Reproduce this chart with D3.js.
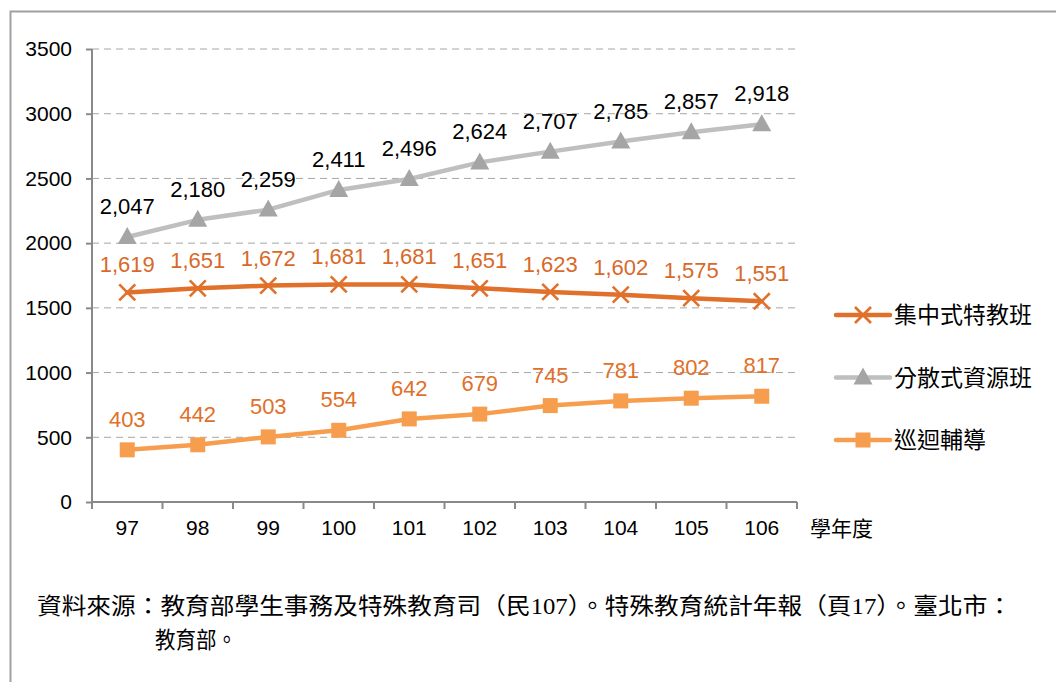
<!DOCTYPE html>
<html>
<head>
<meta charset="utf-8" />
<title>特殊教育班級數</title>
<style>
  html, body { margin: 0; padding: 0; background: #fff; }
  body { width: 1056px; height: 682px; overflow: hidden; font-family: "Liberation Sans", Arial, sans-serif; }
  .grid line { stroke: #a6a6a6; stroke-dasharray: 7 5; }
  .axis path, .axis line { stroke: #898989; stroke-width: 2; }
  .axis text { font-size: 21px; fill: #000; font-family: "Liberation Sans", Arial, sans-serif; }
</style>
</head>
<body>
<svg id="chart" width="1056" height="682"></svg>
<script src="https://cdn.jsdelivr.net/npm/d3@7/dist/d3.min.js"></script>
<script>
  // data
  const years = ['97', '98', '99', '100', '101', '102', '103', '104', '105', '106']
  const jizhong = [1619, 1651, 1672, 1681, 1681, 1651, 1623, 1602, 1575, 1551]
  const fensan = [2047, 2180, 2259, 2411, 2496, 2624, 2707, 2785, 2857, 2918]
  const xunhui = [403, 442, 503, 554, 642, 679, 745, 781, 802, 817]
  const yTicks = [0, 500, 1000, 1500, 2000, 2500, 3000, 3500]

  const series = [
    { name: '集中式特教班', values: jizhong, color: '#e0702a', labelColor: '#d8692a', marker: 'cross', dy: -20 },
    { name: '分散式資源班', values: fensan, color: '#bfbfbf', labelColor: '#000', marker: 'triangle', dy: -23 },
    { name: '巡迴輔導', values: xunhui, color: '#f79e4e', labelColor: '#e0702a', marker: 'square', dy: -23 }
  ]

  const margin = { top: 49, left: 92 }
  const width = 705
  const height = 453

  const svg = d3.select('#chart')

  // outer frame
  svg.append('rect')
    .attr('x', 10.5).attr('y', 11.5)
    .attr('width', 1100).attr('height', 700)
    .attr('fill', 'none').attr('stroke', '#a0a0a0').attr('stroke-width', 2)

  const g = svg.append('g')
    .attr('transform', 'translate(' + margin.left + ',' + margin.top + ')')

  const x = d3.scaleBand().domain(years).range([0, width])
  const y = d3.scaleLinear().domain([0, 3500]).range([height, 0])
  const cx = d => x(d) + x.bandwidth() / 2

  // dashed grid
  g.append('g').attr('class', 'grid')
    .selectAll('line')
    .data(yTicks.filter(d => d > 0))
    .enter().append('line')
    .attr('x1', 0).attr('x2', width)
    .attr('y1', d => y(d)).attr('y2', d => y(d))

  const yAxis = g.append('g').attr('class', 'axis')
    .call(d3.axisLeft(y).tickValues(yTicks).tickFormat(d3.format('d'))
      .tickSize(6).tickPadding(14).tickSizeOuter(0))
  yAxis.select('.domain').attr('d', 'M0,' + height + 'V0')

  const xAxis = g.append('g').attr('class', 'axis')
    .attr('transform', 'translate(0,' + height + ')')
    .call(d3.axisBottom(x).tickSize(0).tickPadding(18))
  xAxis.select('.domain').attr('d', 'M0,0H' + width)
  xAxis.selectAll('.bound')
    .data(d3.range(years.length + 1))
    .enter().append('line')
    .attr('x1', i => i * x.step()).attr('x2', i => i * x.step())
    .attr('y1', 0).attr('y2', 7)

  g.append('text')
    .attr('x', width + 13).attr('y', height + 34)
    .attr('font-size', 21)
    .attr('font-family', '"Noto Sans CJK TC", sans-serif')
    .text('學年度')

  const line = d3.line()
    .x((d, i) => cx(years[i]))
    .y(d => y(d))

  const drawMarker = (sel, type, color) => {
    if (type === 'cross') {
      sel.append('path')
        .attr('d', 'M-8,-8L8,8M-8,8L8,-8')
        .attr('stroke', color).attr('stroke-width', 2.6).attr('fill', 'none')
    } else if (type === 'triangle') {
      sel.append('path')
        .attr('d', 'M0,-10L9.5,7L-9.5,7Z')
        .attr('fill', '#a5a5a5')
    } else {
      sel.append('rect')
        .attr('x', -7.5).attr('y', -7.5).attr('width', 15).attr('height', 15)
        .attr('fill', color)
    }
  }

  series.forEach(s => {
    g.append('path')
      .datum(s.values)
      .attr('d', line)
      .attr('fill', 'none')
      .attr('stroke', s.color)
      .attr('stroke-width', 4.5)
      .attr('stroke-linejoin', 'round')
      .attr('stroke-linecap', 'round')

    const pts = g.selectAll('.pt-' + s.marker)
      .data(s.values)
      .enter().append('g')
      .attr('transform', (d, i) => 'translate(' + cx(years[i]) + ',' + y(d) + ')')
    drawMarker(pts, s.marker, s.color)

    g.selectAll('.lbl-' + s.marker)
      .data(s.values)
      .enter().append('text')
      .attr('x', (d, i) => cx(years[i]))
      .attr('y', d => y(d) + s.dy)
      .attr('text-anchor', 'middle')
      .attr('font-size', 22)
      .attr('fill', s.labelColor)
      .text(d => d3.format(',')(d))
  })

  // legend
  const legend = svg.append('g')
    .attr('transform', 'translate(836,315)')
  series.forEach((s, i) => {
    const item = legend.append('g').attr('transform', 'translate(0,' + (i * 62.5) + ')')
    item.append('line')
      .attr('x1', 0).attr('x2', 54)
      .attr('stroke', s.color).attr('stroke-width', 4.5).attr('stroke-linecap', 'round')
    drawMarker(item.append('g').attr('transform', 'translate(27,0)'), s.marker, s.color)
    item.append('text')
      .attr('x', 58).attr('y', 8)
      .attr('font-size', 23)
      .attr('font-family', '"Noto Sans CJK TC", sans-serif')
      .text(s.name)
  })

  // source note
  const note = svg.append('g')
    .attr('font-family', '"Liberation Serif", "Noto Sans CJK TC", serif')
    .attr('font-size', 23)
  note.append('text')
    .attr('x', 37).attr('y', 614)
    .attr('textLength', 975).attr('lengthAdjust', 'spacingAndGlyphs')
    .text('資料來源：教育部學生事務及特殊教育司（民107）。特殊教育統計年報（頁17）。臺北市：')
  note.append('text')
    .attr('x', 155).attr('y', 648)
    .attr('textLength', 82).attr('lengthAdjust', 'spacingAndGlyphs')
    .text('教育部。')
</script>
</body>
</html>
